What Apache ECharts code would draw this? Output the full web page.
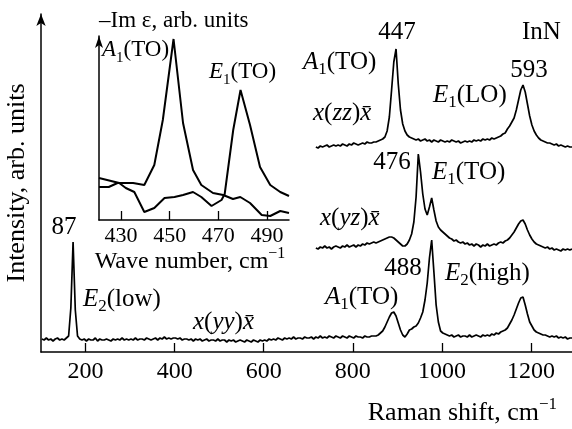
<!DOCTYPE html>
<html>
<head>
<meta charset="utf-8">
<script src="https://cdn.jsdelivr.net/npm/echarts@6/dist/echarts.min.js"></script>
<style>
  html, body { margin: 0; padding: 0; background: #fff; }
  #chart { width: 572px; height: 429px; }
</style>
</head>
<body>
<div id="chart"></div>
<script>
// Raman spectra of InN in three scattering geometries, sampled every 5 units of shift.
const shiftStep = 5;
const yyStart = 102;
const yzStart = 717;
const zzStart = 717;

// x(yy)x̄ geometry, from 102 to 1292
const yyIntensity = [
  13, 12, 14, 12, 13, 11, 13, 14, 12, 13,
  12, 14, 16, 44, 110, 42, 16, 13, 12, 13,
  11, 13, 12, 12, 14, 11, 13, 12, 12, 13,
  12, 11, 13, 12, 13, 12, 14, 12, 13, 12,
  13, 12, 14, 12, 13, 13, 12, 14, 13, 12,
  13, 14, 12, 14, 13, 15, 13, 14, 13, 14,
  14, 13, 14, 12, 13, 13, 12, 13, 11, 13,
  12, 13, 11, 12, 13, 11, 12, 12, 11, 13,
  11, 12, 12, 10, 12, 11, 12, 10, 11, 12,
  11, 10, 12, 11, 10, 12, 11, 10, 12, 11,
  12, 11, 13, 12, 13, 12, 14, 13, 12, 14,
  13, 14, 13, 15, 13, 14, 14, 13, 15, 14,
  14, 15, 13, 15, 14, 16, 14, 15, 14, 16,
  15, 14, 16, 15, 14, 16, 15, 14, 16, 15,
  14, 16, 15, 15, 14, 16, 15, 15, 16, 16,
  16, 17, 19, 21, 25, 30, 35, 39, 40, 36,
  29, 22, 17, 15, 18, 22, 23, 25, 26, 29,
  34, 40, 52, 69, 94, 112, 80, 47, 30, 21,
  19, 18, 17, 16, 17, 15, 16, 17, 15, 16,
  16, 15, 17, 15, 16, 17, 16, 15, 17, 16,
  17, 16, 18, 17, 19, 18, 20, 21, 22, 24,
  28, 32, 37, 43, 49, 54, 55, 47, 38, 30,
  26, 22, 20, 19, 18, 17, 17, 16, 15, 16,
  15, 16, 14, 15, 14, 15, 13, 14, 14
];

// x(yz)x̄ geometry, from 717 to 1292
const yzIntensity = [
  104, 103, 105, 104, 106, 104, 105, 103, 105, 106,
  105, 104, 106, 105, 107, 105, 106, 107, 105, 107,
  106, 108, 107, 109, 108, 109, 110, 109, 110, 111,
  112, 113, 114, 115, 115, 114, 112, 110, 108, 106,
  106, 108, 112, 118, 130, 155, 198, 180, 158, 143,
  137, 145, 154, 142, 131, 125, 122, 120, 118, 116,
  114, 113, 111, 112, 110, 109, 110, 108, 109, 107,
  108, 106, 108, 107, 105, 107, 106, 108, 106, 107,
  108, 107, 109, 110, 109, 111, 112, 114, 117, 120,
  124, 128, 131, 132, 128, 122, 117, 113, 110, 108,
  107, 106, 105, 104, 105, 103, 104, 102, 103, 102,
  101, 103, 102, 103, 102, 103
];

// x(zz)x̄ geometry, from 717 to 1292
const zzIntensity = [
  205, 204, 206, 205, 206, 207, 205, 206, 207, 206,
  207, 206, 208, 207, 206, 208, 207, 209, 208, 207,
  208, 209, 208, 210, 209, 209, 210, 210, 211, 212,
  213, 215, 221, 235, 262, 290, 303, 268, 242, 228,
  221, 217, 215, 214, 213, 212, 213, 211, 212, 213,
  211, 212, 210, 212, 211, 210, 212, 211, 210, 211,
  210, 212, 211, 210, 211, 209, 210, 211, 210, 211,
  210, 212, 211, 212, 211, 213, 212, 213, 212, 214,
  213, 214, 215, 216, 218, 219, 223, 226, 230, 234,
  242, 252, 262, 267, 260, 248, 236, 227, 221, 217,
  214, 212, 211, 210, 209, 209, 208, 207, 208, 206,
  207, 206, 205, 206, 205, 205
];

// Inset: -Im eps against wave number (cm^-1)
const imEpsA1 = [
  [421, 33], [425, 33], [428.6, 37], [435, 37], [439.6, 35], [443.7, 55],
  [447.2, 100], [451.6, 181], [455.5, 97], [459.6, 50], [463, 35],
  [467.8, 27], [472, 25], [476, 21], [479, 23], [483, 17], [487.8, 5],
  [491.3, 4], [495.4, 9], [499, 7]
];
const imEpsE1 = [
  [421, 42], [429.3, 37], [432, 32], [435.5, 28], [439.6, 8], [443.7, 12],
  [447.9, 22], [452, 23], [455.5, 25], [459.6, 28], [463, 23], [467.2, 14],
  [471.3, 20], [472.6, 26], [476.1, 90], [479.1, 130], [483, 95],
  [487.1, 53], [491.3, 35], [495.4, 28], [499, 24]
];

const shiftTicks = [200, 400, 600, 800, 1000, 1200];
const waveTicks = [430, 450, 470, 490];

function toPairs(start, values) {
  return values.map((v, i) => [start + i * shiftStep, v]);
}

const SERIF = '"Liberation Serif", "Times New Roman", serif';
const INK = '#000';

function rich(size) {
  const sub = Math.round(size * 0.66);
  return {
    n: { fontFamily: SERIF, fontSize: size, lineHeight: size + 8, fill: INK },
    i: { fontFamily: SERIF, fontSize: size, fontStyle: 'italic', lineHeight: size + 8, fill: INK },
    s: { fontFamily: SERIF, fontSize: sub, verticalAlign: 'bottom', lineHeight: sub, fill: INK },
    p: { fontFamily: SERIF, fontSize: sub, verticalAlign: 'top', lineHeight: sub, fill: INK }
  };
}

function label(text, x, y, size, align, rotation) {
  return {
    type: 'text',
    x: x, y: y,
    rotation: rotation || 0,
    z: 10,
    style: {
      text: text,
      rich: rich(size),
      fill: INK,
      align: align || 'left',
      verticalAlign: 'middle'
    }
  };
}

const plainNumber = v => String(v);
const lineStyle = { color: INK, width: 1.7 };
const insetLine = { color: INK, width: 2 };

const chart = echarts.init(document.getElementById('chart'), null, { renderer: 'canvas' });

chart.setOption({
  animation: false,
  backgroundColor: '#fff',
  grid: [
    { left: 41, right: 0, top: 14, bottom: 77 },
    { left: 99, right: 283, top: 36, bottom: 209 }
  ],
  xAxis: [
    {
      gridIndex: 0, type: 'value', min: 100, max: 1292,
      axisLine: { lineStyle: { color: INK, width: 1.5 } },
      axisTick: { inside: true, length: 9, customValues: shiftTicks, lineStyle: { color: INK, width: 1.3 } },
      axisLabel: { customValues: shiftTicks, formatter: plainNumber, color: INK, fontFamily: SERIF, fontSize: 24, margin: 8 },
      splitLine: { show: false }
    },
    {
      gridIndex: 1, type: 'value', min: 421, max: 499,
      axisLine: { lineStyle: { color: INK, width: 1.5 } },
      axisTick: { inside: true, length: 9, customValues: waveTicks, lineStyle: { color: INK, width: 1.3 } },
      axisLabel: { customValues: waveTicks, formatter: plainNumber, color: INK, fontFamily: SERIF, fontSize: 22, margin: 5 },
      splitLine: { show: false }
    }
  ],
  yAxis: [
    {
      gridIndex: 0, type: 'value', min: 0, max: 338,
      axisLine: { show: true, symbol: ['none', 'arrow'], symbolSize: [7, 12], lineStyle: { color: INK, width: 1.5 } },
      axisTick: { show: false },
      axisLabel: { show: false },
      splitLine: { show: false }
    },
    {
      gridIndex: 1, type: 'value', min: 0, max: 184,
      axisLine: { show: true, symbol: ['none', 'arrow'], symbolSize: [6, 12], lineStyle: { color: INK, width: 1.5 } },
      axisTick: { show: false },
      axisLabel: { show: false },
      splitLine: { show: false }
    }
  ],
  series: [
    { name: 'x(yy)x', type: 'line', xAxisIndex: 0, yAxisIndex: 0, data: toPairs(yyStart, yyIntensity), showSymbol: false, lineStyle: lineStyle },
    { name: 'x(yz)x', type: 'line', xAxisIndex: 0, yAxisIndex: 0, data: toPairs(yzStart, yzIntensity), showSymbol: false, lineStyle: lineStyle },
    { name: 'x(zz)x', type: 'line', xAxisIndex: 0, yAxisIndex: 0, data: toPairs(zzStart, zzIntensity), showSymbol: false, lineStyle: lineStyle },
    { name: 'A1', type: 'line', xAxisIndex: 1, yAxisIndex: 1, data: imEpsA1, showSymbol: false, lineStyle: insetLine },
    { name: 'E1', type: 'line', xAxisIndex: 1, yAxisIndex: 1, data: imEpsE1, showSymbol: false, lineStyle: insetLine }
  ],
  graphic: [
    label('{n|Intensity, arb. units}', 17, 183, 26, 'center', Math.PI / 2),
    label('{n|Raman shift, cm}{p|\u22121}', 557, 413, 26, 'right'),
    label('{n|\u2013Im \u03b5, arb. units}', 99, 21, 23, 'left'),
    label('{i|A}{s|1}{n|(TO)}', 102, 50, 23, 'left'),
    label('{i|E}{s|1}{n|(TO)}', 209, 72, 23, 'left'),
    label('{n|Wave number, cm}{p|\u22121}', 190, 262, 24, 'center'),
    label('{n|87}', 64, 227, 25, 'center'),
    label('{i|E}{s|2}{n|(low)}', 83, 299, 25, 'left'),
    label('{i|x}{n|(}{i|yy}{n|)}{i|x\u0304}', 193, 322, 25, 'left'),
    label('{i|A}{s|1}{n|(TO)}', 325, 297, 25, 'left'),
    label('{n|488}', 403, 268, 25, 'center'),
    label('{i|E}{s|2}{n|(high)}', 445, 273, 25, 'left'),
    label('{i|x}{n|(}{i|yz}{n|)}{i|x\u0304}', 320, 218, 25, 'left'),
    label('{n|476}', 392, 162, 25, 'center'),
    label('{i|E}{s|1}{n|(TO)}', 432, 172, 25, 'left'),
    label('{n|447}', 397, 32, 25, 'center'),
    label('{n|InN}', 522, 32, 25, 'left'),
    label('{i|A}{s|1}{n|(TO)}', 303, 62, 25, 'left'),
    label('{n|593}', 529, 70, 25, 'center'),
    label('{i|E}{s|1}{n|(LO)}', 433, 95, 25, 'left'),
    label('{i|x}{n|(}{i|zz}{n|)}{i|x\u0304}', 313, 113, 25, 'left')
  ]
});
</script>
</body>
</html>
